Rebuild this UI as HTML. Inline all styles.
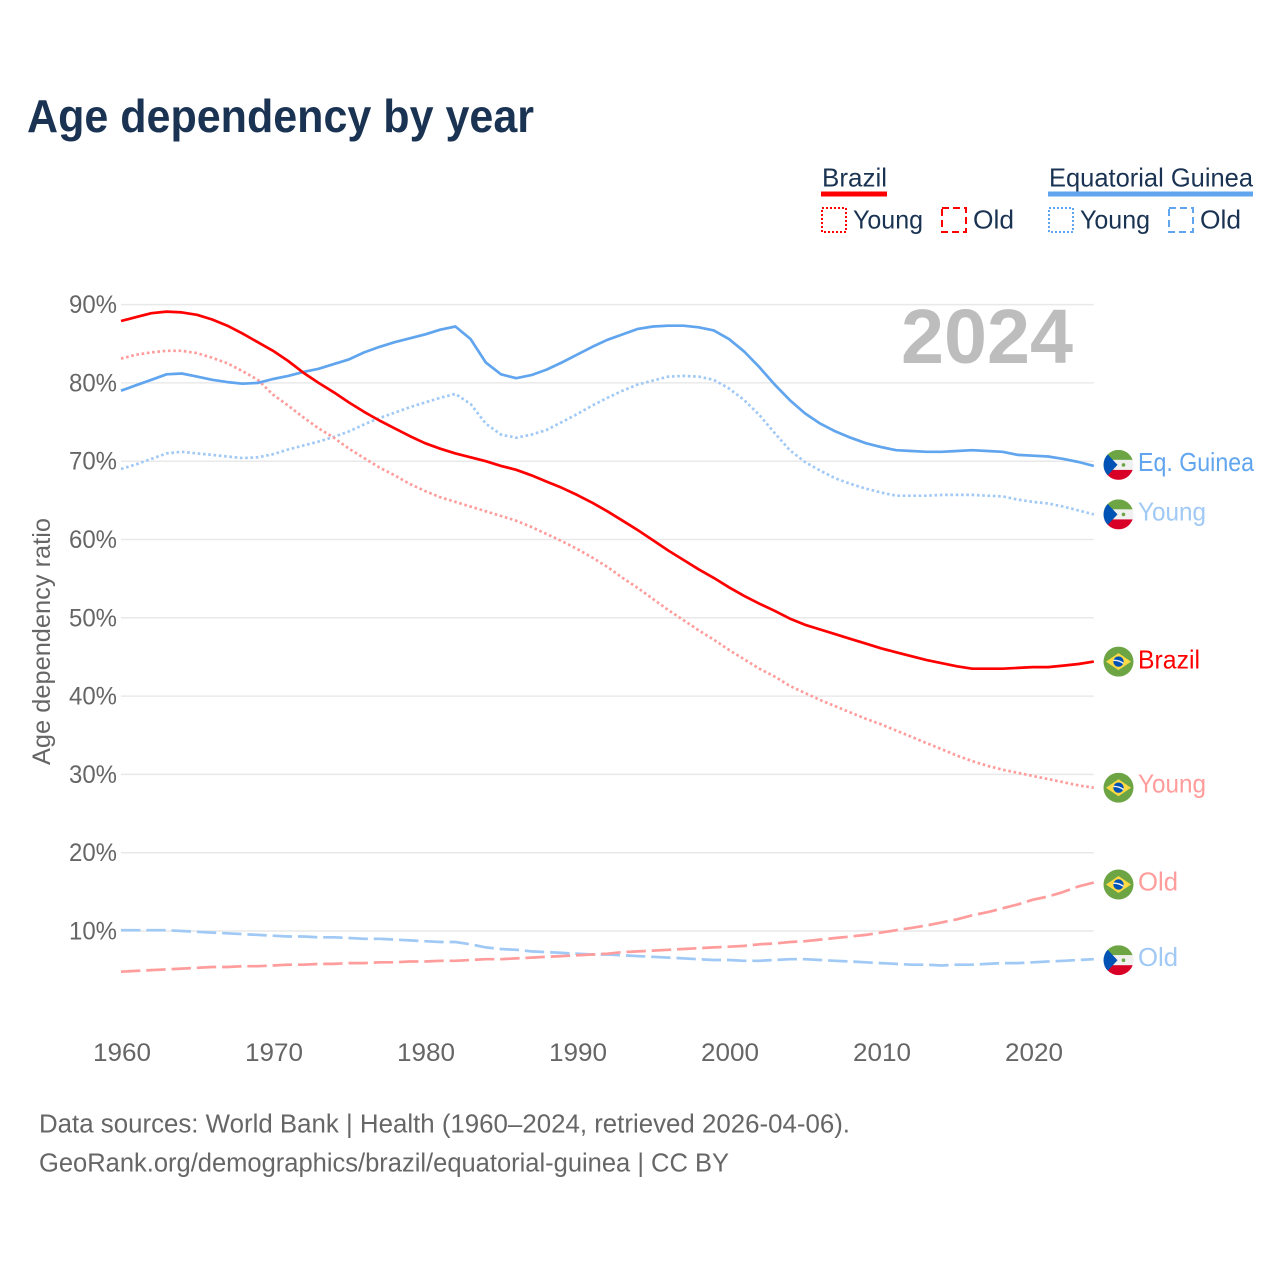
<!DOCTYPE html>
<html lang="en">
<head>
<meta charset="utf-8">
<title>Age dependency by year</title>
<style>
html,body{margin:0;padding:0;background:#fff;width:1280px;height:1280px;overflow:hidden}
svg{display:block;font-family:"Liberation Sans",sans-serif}
.leg{font-size:26px;fill:#1a3353}
.tick{font-size:25px;fill:#666}
.foot{font-size:25.5px;fill:#666}
</style>
</head>
<body>
<svg id="chart" xmlns="http://www.w3.org/2000/svg" width="1280" height="1280" viewBox="0 0 1280 1280">
<defs>
  <clipPath id="flag-clip"><circle cx="0" cy="0" r="15"/></clipPath>
  <g id="flag-br" clip-path="url(#flag-clip)">
    <rect x="-15" y="-15" width="30" height="30" fill="#6da544"/>
    <polygon points="-12.5,0 0,-8.5 12.5,0 0,8.5" fill="#ffda44"/>
    <circle cx="0" cy="0" r="5.2" fill="#0052b4"/>
    <path d="M-5,-1.2 Q0,-1.6 5,1.8" stroke="#f0f0f0" stroke-width="1.4" fill="none"/>
  </g>
  <g id="flag-gq" clip-path="url(#flag-clip)">
    <rect x="-15" y="-15" width="30" height="10" fill="#6da544"/>
    <rect x="-15" y="-5" width="30" height="10" fill="#f0f0f0"/>
    <rect x="-15" y="5" width="30" height="10" fill="#d80027"/>
    <polygon points="-15,-15 -1,0 -15,15" fill="#0052b4"/>
    <circle cx="5" cy="0" r="1.8" fill="#6da544"/>
  </g>
</defs>
<rect x="0" y="0" width="1280" height="1280" fill="#fff"/>
<text x="27" y="132" font-size="46" font-weight="700" fill="#1a3353" textLength="507" lengthAdjust="spacingAndGlyphs">Age dependency by year</text>

<g>
  <text class="leg" x="822" y="186.5" textLength="65" lengthAdjust="spacingAndGlyphs">Brazil</text>
  <rect x="821" y="191.5" width="66" height="5" fill="#ff0000"/>
  <rect x="822" y="208" width="24" height="24" fill="none" stroke="#ff0000" stroke-width="2" stroke-dasharray="2 2"/>
  <text class="leg" x="853" y="228.5" textLength="70" lengthAdjust="spacingAndGlyphs">Young</text>
  <rect x="942" y="208" width="24" height="24" fill="none" stroke="#ff0000" stroke-width="2" stroke-dasharray="7 4"/>
  <text class="leg" x="973" y="228.5" textLength="41" lengthAdjust="spacingAndGlyphs">Old</text>
  <text class="leg" x="1049" y="186.5" textLength="204" lengthAdjust="spacingAndGlyphs">Equatorial Guinea</text>
  <rect x="1048" y="191.5" width="205" height="5" fill="#60a5ee"/>
  <rect x="1049" y="208" width="24" height="24" fill="none" stroke="#60a5ee" stroke-width="2" stroke-dasharray="2 2"/>
  <text class="leg" x="1080" y="228.5" textLength="70" lengthAdjust="spacingAndGlyphs">Young</text>
  <rect x="1169" y="208" width="24" height="24" fill="none" stroke="#60a5ee" stroke-width="2" stroke-dasharray="7 4"/>
  <text class="leg" x="1200" y="228.5" textLength="41" lengthAdjust="spacingAndGlyphs">Old</text>
</g>

<text class="tick" transform="translate(50,765) rotate(-90)" x="0" y="0" textLength="247" lengthAdjust="spacingAndGlyphs">Age dependency ratio</text>
<g id="grid"></g>
<g id="yticks"></g>
<g id="xticks"></g>
<text x="901" y="363" font-size="77" font-weight="700" fill="#bdbdbd" textLength="172" lengthAdjust="spacingAndGlyphs">2024</text>
<g id="lines"></g>
<g id="ends"></g>

<text class="foot" x="39" y="1132.5" textLength="811" lengthAdjust="spacingAndGlyphs">Data sources: World Bank | Health (1960–2024, retrieved 2026-04-06).</text>
<text class="foot" x="39" y="1171.5" textLength="690" lengthAdjust="spacingAndGlyphs">GeoRank.org/demographics/brazil/equatorial-guinea | CC BY</text>
</svg>

<script>
const startYear = 1960;
const yTickValues = [10, 20, 30, 40, 50, 60, 70, 80, 90];
const yTickLabels = ["10%", "20%", "30%", "40%", "50%", "60%", "70%", "80%", "90%"];
const xTickYears = [1960, 1970, 1980, 1990, 2000, 2010, 2020];

const brazilTotal = [
  87.9,88.4,88.9,89.1,89.0,88.7,88.1,87.3,86.3,85.2,
  84.1,82.8,81.3,80.0,78.8,77.5,76.3,75.2,74.2,73.2,
  72.3,71.6,71.0,70.5,70.0,69.4,68.9,68.2,67.4,66.6,
  65.7,64.7,63.6,62.4,61.2,59.9,58.6,57.4,56.2,55.1,
  53.9,52.8,51.8,50.9,49.9,49.1,48.5,47.9,47.3,46.7,
  46.1,45.6,45.1,44.6,44.2,43.8,43.5,43.5,43.5,43.6,
  43.7,43.7,43.9,44.1,44.4];
const brazilYoung = [
  83.1,83.6,83.9,84.1,84.1,83.8,83.2,82.5,81.5,80.4,
  78.5,77.1,75.6,74.2,73.0,71.6,70.4,69.2,68.2,67.1,
  66.2,65.4,64.8,64.2,63.6,63.0,62.4,61.6,60.7,59.8,
  58.8,57.7,56.5,55.1,53.8,52.4,51.0,49.7,48.4,47.2,
  45.9,44.7,43.5,42.5,41.3,40.4,39.5,38.7,37.9,37.1,
  36.4,35.6,34.8,34.0,33.2,32.4,31.7,31.1,30.6,30.2,
  29.8,29.4,29.0,28.6,28.3];
const brazilOld = [
  4.8,4.9,5.0,5.1,5.2,5.3,5.4,5.4,5.5,5.5,
  5.6,5.7,5.7,5.8,5.8,5.9,5.9,6.0,6.0,6.1,
  6.1,6.2,6.2,6.3,6.4,6.4,6.5,6.6,6.7,6.8,
  6.9,7.0,7.1,7.3,7.4,7.5,7.6,7.7,7.8,7.9,
  8.0,8.1,8.3,8.4,8.6,8.7,8.9,9.1,9.3,9.5,
  9.8,10.1,10.4,10.7,11.1,11.5,12.0,12.4,12.9,13.4,
  14.0,14.4,15.0,15.7,16.2];
const guineaTotal = [
  79.0,79.7,80.4,81.1,81.2,80.8,80.4,80.1,79.9,80.0,
  80.5,80.9,81.4,81.8,82.4,83.0,83.9,84.6,85.2,85.7,
  86.2,86.8,87.2,85.6,82.6,81.1,80.6,81.0,81.7,82.6,
  83.6,84.6,85.5,86.2,86.9,87.2,87.3,87.3,87.1,86.7,
  85.6,84.0,82.0,79.8,77.8,76.1,74.8,73.8,73.0,72.3,
  71.8,71.4,71.3,71.2,71.2,71.3,71.4,71.3,71.2,70.8,
  70.7,70.6,70.3,69.9,69.4];
const guineaYoung = [
  69.0,69.6,70.3,71.0,71.2,71.0,70.8,70.6,70.4,70.5,
  70.9,71.5,72.0,72.5,73.1,73.8,74.7,75.5,76.2,76.9,
  77.5,78.1,78.6,77.3,74.8,73.4,73.0,73.4,74.0,75.0,
  76.0,77.1,78.1,79.0,79.8,80.3,80.8,80.9,80.8,80.4,
  79.3,77.8,75.9,73.6,71.4,69.9,68.8,67.8,67.1,66.5,
  66.0,65.6,65.6,65.6,65.7,65.7,65.7,65.6,65.5,65.1,
  64.8,64.6,64.2,63.7,63.2];
const guineaOld = [
  10.1,10.1,10.1,10.1,10.0,9.9,9.8,9.7,9.6,9.5,
  9.4,9.3,9.3,9.2,9.2,9.1,9.0,9.0,8.9,8.8,
  8.7,8.6,8.6,8.3,7.9,7.7,7.6,7.4,7.3,7.2,
  7.1,7.0,7.0,6.9,6.8,6.7,6.6,6.5,6.4,6.3,
  6.3,6.2,6.2,6.3,6.4,6.4,6.3,6.2,6.1,6.0,
  5.9,5.8,5.7,5.7,5.6,5.7,5.7,5.8,5.9,5.9,
  6.0,6.1,6.2,6.3,6.4];

const NS = "http://www.w3.org/2000/svg";
const xScale = function (year) { return 121 + (year - startYear) * 15.2; };
const yScale = function (v) { return 931 - (v - 10) * 7.83; };
const make = function (tag, parent) {
  const el = document.createElementNS(NS, tag);
  parent.appendChild(el);
  return el;
};

const gridG = document.getElementById("grid");
const yTickG = document.getElementById("yticks");
yTickValues.forEach(function (v, i) {
  const ln = make("line", gridG);
  
  
  ln.setAttribute("x1", 121);
  ln.setAttribute("x2", xScale(2024));
  ln.setAttribute("y1", yScale(v));
  ln.setAttribute("y2", yScale(v));
  ln.setAttribute("stroke", "#e9e9e9");
  ln.setAttribute("stroke-width", 1.5);
  const t = make("text", yTickG);
  
  
  t.setAttribute("class", "tick");
  t.setAttribute("x", 69);
  t.setAttribute("y", yScale(v) + 8.5);
  t.setAttribute("textLength", 48);
  t.setAttribute("lengthAdjust", "spacingAndGlyphs");
  t.textContent = yTickLabels[i];
});

const xTickG = document.getElementById("xticks");
xTickYears.forEach(function (yr) {
  const t = make("text", xTickG);
  
  
  t.setAttribute("class", "tick");
  t.setAttribute("x", xScale(yr) - 28);
  t.setAttribute("y", 1061);
  t.setAttribute("textLength", 58);
  t.setAttribute("lengthAdjust", "spacingAndGlyphs");
  t.textContent = String(yr);
});

const linesG = document.getElementById("lines");
const endsG = document.getElementById("ends");

const drawSeries = function (values, name, color, dash) {
  const p = make("path", linesG);
  
  
  p.setAttribute("d", values.map(function (v, i) {
    return (i ? "L" : "M") + xScale(startYear + i).toFixed(1) + " " + yScale(v).toFixed(1);
  }).join(""));
  p.setAttribute("fill", "none");
  p.setAttribute("stroke", color);
  p.setAttribute("stroke-width", 2.7);
  p.setAttribute("stroke-linejoin", "round");
  if (dash) p.setAttribute("stroke-dasharray", dash);
};

const drawEnd = function (values, flagId, label, width, color, name, flagShift, textShift) {
  const cy = yScale(values[values.length - 1]);
  const u = make("use", endsG);
  
  
  u.setAttribute("href", "#" + flagId);
  u.setAttribute("transform", "translate(1118.5 " + (cy + flagShift).toFixed(1) + ")");
  const t = make("text", endsG);
  
  
  t.setAttribute("x", 1138);
  t.setAttribute("y", (cy + 7 + textShift).toFixed(1));
  t.setAttribute("font-size", 26);
  t.setAttribute("fill", color);
  t.setAttribute("textLength", width);
  t.setAttribute("lengthAdjust", "spacingAndGlyphs");
  t.textContent = label;
};

const RED = "#ff0000", BLUE = "#60a5ee", LRED = "#ff9c9c", LBLUE = "#a0c9f5";
drawSeries(guineaOld, "line-eq-guinea-old", LBLUE, "19.4 5.9");
drawSeries(brazilOld, "line-brazil-old", LRED, "19.4 5.9");
drawSeries(guineaYoung, "line-eq-guinea-young", LBLUE, "2.6 2.7");
drawSeries(brazilYoung, "line-brazil-young", LRED, "2.6 2.7");
drawSeries(guineaTotal, "line-eq-guinea-total", BLUE, "");
drawSeries(brazilTotal, "line-brazil-total", RED, "");

drawEnd(guineaTotal, "flag-gq", "Eq. Guinea", 116, BLUE, "end-label-eq-guinea", -1, -2);
drawEnd(guineaYoung, "flag-gq", "Young", 68, LBLUE, "end-label-eq-guinea-young", 0, -1);
drawEnd(brazilTotal, "flag-br", "Brazil", 62, RED, "end-label-brazil", 0, 0);
drawEnd(brazilYoung, "flag-br", "Young", 68, LRED, "end-label-brazil-young", 0, -2);
drawEnd(brazilOld, "flag-br", "Old", 40, LRED, "end-label-brazil-old", 2, 1);
drawEnd(guineaOld, "flag-gq", "Old", 40, LBLUE, "end-label-eq-guinea-old", 1, 0);
</script>
</body>
</html>
